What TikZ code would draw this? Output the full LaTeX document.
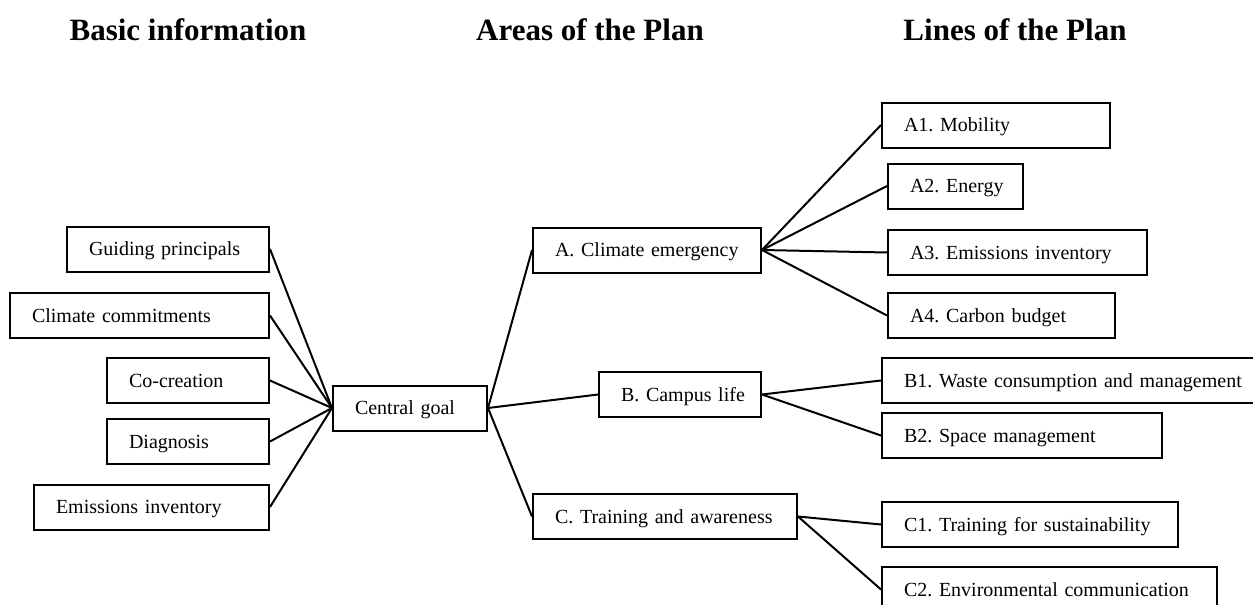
\documentclass[tikz,border=0pt]{standalone}
\usepackage{fontspec}
\setmainfont{Liberation Serif}
\frenchspacing
\begin{document}
\begin{tikzpicture}[x=1pt,y=-1pt,
  box/.style={draw, line width=2pt, minimum height=45pt, inner ysep=0pt, inner xsep=22pt,
    align=left, font=\fontsize{20}{24}\selectfont\frenchspacing,
    text height=17pt, text depth=4pt,
    execute at begin node={\hbox\bgroup}, execute at end node={\egroup}},
  head/.style={font=\bfseries\fontsize{31}{36}\selectfont, inner sep=0pt},
  link/.style={line width=2pt}]
\useasboundingbox (0,0) rectangle (1253,605);
% titles
\node[head] (t1) at (188,30) {Basic information};
\node[head] (t2) at (590,30) {Areas of the Plan};
\node[head] (t3) at (1015,30) {Lines of the Plan};
% basic information
\node[box, text width=158pt] (gp) at (168,249) {Guiding principals};
\node[box, text width=215pt] (cc) at (139.5,315.5) {Climate commitments};
\node[box, text width=118pt] (co) at (188,380.5) {Co-creation};
\node[box, text width=118pt] (dg) at (188,441.5) {Diagnosis};
\node[box, text width=191pt] (ei) at (151.5,507) {Emissions inventory};
\node[box, text width=110pt] (cg) at (410,408) {Central goal};
% areas
\node[box, text width=184pt] (A) at (647,250) {A. Climate emergency};
\node[box, text width=118pt] (B) at (680,394.5) {B. Campus life};
\node[box, text width=220pt] (C) at (665,516.5) {C. Training and awareness};
% lines
\node[box, text width=184pt] (A1) at (996,125) {A1. Mobility};
\node[box, text width=91pt] (A2) at (955.5,186) {A2. Energy};
\node[box, text width=215pt] (A3) at (1017.5,252.5) {A3. Emissions inventory};
\node[box, text width=183pt] (A4) at (1001.5,315.5) {A4. Carbon budget};
\node[box, text width=350pt] (B1) at (1079,380.5) {B1. Waste consumption and management};
\node[box, text width=236pt] (B2) at (1022,435.5) {B2. Space management};
\node[box, text width=252pt] (C1) at (1030,524.5) {C1. Training for sustainability};
\node[box, text width=291pt] (C2) at (1049.5,589.5) {C2. Environmental communication};
% connectors
\foreach \n in {gp,cc,co,dg,ei} \draw[link] (\n.east) -- (cg.west);
\foreach \n in {A,B,C} \draw[link] (cg.east) -- (\n.west);
\foreach \n in {A1,A2,A3,A4} \draw[link] (A.east) -- (\n.west);
\foreach \n in {B1,B2} \draw[link] (B.east) -- (\n.west);
\foreach \n in {C1,C2} \draw[link] (C.east) -- (\n.west);
\end{tikzpicture}
\end{document}
